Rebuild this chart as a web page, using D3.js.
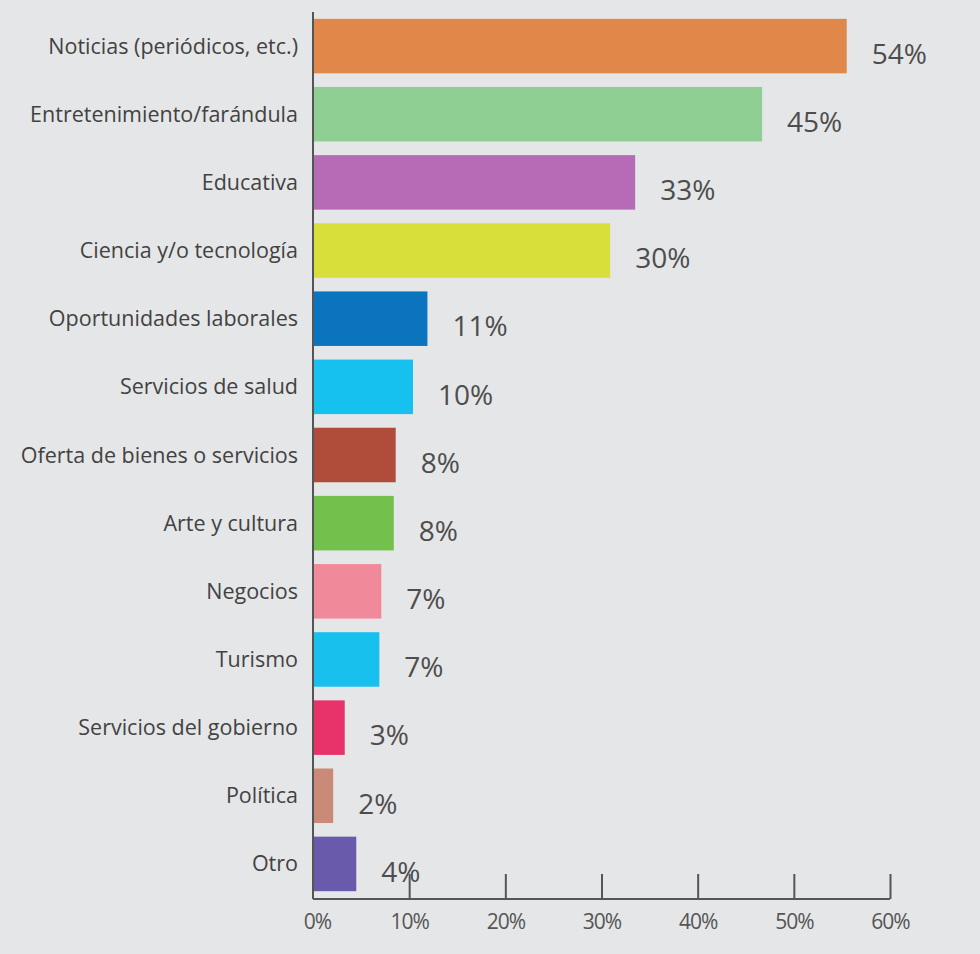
<!DOCTYPE html>
<html>
<head>
<meta charset="utf-8">
<script src="https://cdn.jsdelivr.net/npm/d3@7"></script>
<style>
  html, body { margin: 0; padding: 0; background: #e5e6e8; }
  svg { display: block; }
</style>
</head>
<body>
<svg id="chart" width="980" height="954"></svg>
<script>
const categories = [
  "Noticias (periódicos, etc.)",
  "Entretenimiento/farándula",
  "Educativa",
  "Ciencia y/o tecnología",
  "Oportunidades laborales",
  "Servicios de salud",
  "Oferta de bienes o servicios",
  "Arte y cultura",
  "Negocios",
  "Turismo",
  "Servicios del gobierno",
  "Política",
  "Otro"
];
// bar lengths as drawn in the picture (percent)
const values = [55.5, 46.7, 33.5, 30.9, 11.9, 10.4, 8.6, 8.4, 7.1, 6.9, 3.3, 2.1, 4.5];
// printed value labels
const valueLabels = ["54%", "45%", "33%", "30%", "11%", "10%", "8%", "8%", "7%", "7%", "3%", "2%", "4%"];
const barColors = ["#e0884a", "#8fcf94", "#b56bb5", "#d8df3a", "#0a74bf", "#16c0ef",
                   "#b04c3a", "#74c04c", "#f08a9a", "#18c0ee", "#e8336a", "#c98a78", "#6a5aab"];
const tickValues = [0, 10, 20, 30, 40, 50, 60];
const tickLabels = ["0%", "10%", "20%", "30%", "40%", "50%", "60%"];

const svg = d3.select("#chart");
const x0 = 313, x1 = 890, yTop = 12, yAxis = 899;

const x = d3.scaleLinear().domain([0, 60]).range([x0, x1]);
const y = d3.scaleBand().domain(categories).range([yTop, 898]).paddingInner(0.2).paddingOuter(0.1);

const data = categories.map((c, i) => ({ c, v: values[i], label: valueLabels[i], color: barColors[i] }));

// bars
svg.append("g").selectAll("rect").data(data).join("rect")
  .attr("x", x(0))
  .attr("y", d => y(d.c))
  .attr("width", d => x(d.v) - x(0))
  .attr("height", y.bandwidth())
  .attr("fill", d => d.color);

// y axis line
svg.append("line")
  .attr("x1", x0).attr("x2", x0)
  .attr("y1", yTop).attr("y2", yAxis)
  .attr("stroke", "#555").attr("stroke-width", 2);

// category labels
svg.append("g").selectAll("text").data(data).join("text")
  .attr("x", 298)
  .attr("y", d => y(d.c) + y.bandwidth() / 2)
  .attr("dy", "0.35em")
  .attr("text-anchor", "end")
  .attr("font-family", "'Open Sans', sans-serif")
  .attr("font-size", 21.5)
  .attr("fill", "#424242")
  .text(d => d.c);

// value labels
svg.append("g").selectAll("text").data(data).join("text")
  .attr("x", d => x(d.v) + 25)
  .attr("y", d => y(d.c) + y.bandwidth() / 2 + 8)
  .attr("dy", "0.35em")
  .attr("font-family", "'Open Sans', sans-serif")
  .attr("font-size", 28)
  .attr("fill", "#4d4d4d")
  .text(d => d.label);

// x axis
const xAxis = d3.axisBottom(x)
  .tickValues(tickValues)
  .tickFormat((d, i) => tickLabels[i])
  .tickSize(-25);

const gx = svg.append("g").attr("transform", `translate(0,${yAxis})`).call(xAxis);
gx.select(".domain").attr("stroke", "#555").attr("stroke-width", 2).attr("d", `M${x0},0H${x1}`);
gx.selectAll(".tick line").attr("stroke", "#555").attr("stroke-width", 2);
gx.selectAll(".tick").filter(d => d === 0).select("line").remove();
gx.selectAll(".tick text")
  .attr("y", 23)
  .attr("dy", "0.35em")
  .attr("dx", d => d === 0 ? 4 : 0)
  .attr("font-family", "'Open Sans', sans-serif")
  .attr("font-size", 21)
  .attr("letter-spacing", -1)
  .attr("fill", "#555");
</script>
</body>
</html>
